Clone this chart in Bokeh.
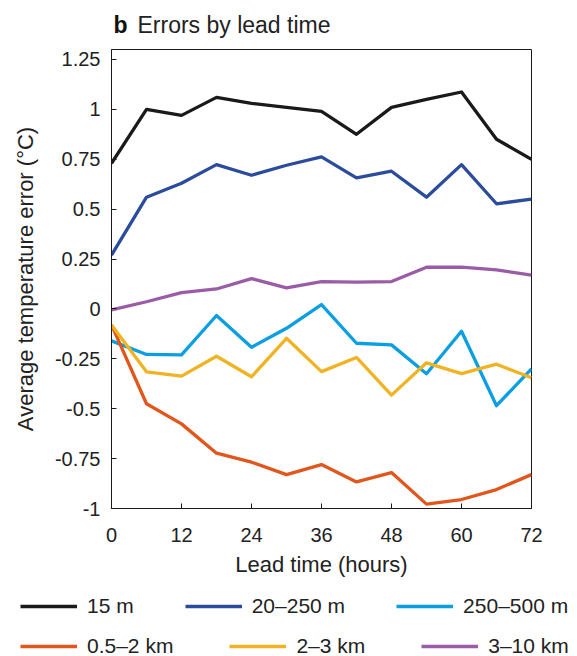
from bokeh.plotting import figure
from bokeh.models import Range1d, FixedTicker, Legend, LegendItem, Label
from bokeh.layouts import column
from bokeh.embed import file_html
from bokeh.resources import INLINE

lead_hours = [0, 6, 12, 18, 24, 30, 36, 42, 48, 54, 60, 66, 72]

err_15m = [0.73, 1.00, 0.97, 1.06, 1.03, 1.01, 0.99, 0.875, 1.01, 1.05, 1.087, 0.85, 0.75]
err_20_250m = [0.27, 0.56, 0.63, 0.723, 0.67, 0.72, 0.762, 0.657, 0.69, 0.56, 0.723, 0.527, 0.55]
err_250_500m = [-0.16, -0.228, -0.23, -0.033, -0.192, -0.097, 0.022, -0.172, -0.18, -0.325, -0.112, -0.485, -0.30]
err_05_2km = [-0.08, -0.475, -0.576, -0.723, -0.768, -0.83, -0.78, -0.867, -0.82, -0.978, -0.955, -0.905, -0.83]
err_2_3km = [-0.08, -0.315, -0.337, -0.237, -0.34, -0.147, -0.314, -0.243, -0.432, -0.27, -0.324, -0.277, -0.345]
err_3_10km = [-0.005, 0.036, 0.082, 0.10, 0.152, 0.106, 0.137, 0.134, 0.137, 0.209, 0.209, 0.196, 0.169]

series_names = ["15 m", "20\u2013250 m", "250\u2013500 m", "0.5\u20132 km", "2\u20133 km", "3\u201310 km"]
series_values = [err_15m, err_20_250m, err_250_500m, err_05_2km, err_2_3km, err_3_10km]
series_colors = ["#1a1a1a", "#2b4c9c", "#0a9fe0", "#e0561c", "#f0b323", "#9a5ca6"]

x_ticks = [0, 12, 24, 36, 48, 60, 72]
y_ticks = [-1, -0.75, -0.5, -0.25, 0, 0.25, 0.5, 0.75, 1, 1.25]
y_tick_labels = ["-1", "-0.75", "-0.5", "-0.25", "0", "0.25", "0.5", "0.75", "1", "1.25"]

FONT = "Liberation Sans"
TXT = "#222222"
W = 577
H_TITLE, H_MAIN, H_LEG = 45, 540, 71


def bare_figure(h, offset=0):
    f = figure(width=W, height=h, output_backend="svg", toolbar_location=None,
               x_range=Range1d(offset, offset + W), y_range=Range1d(offset, offset + h),
               x_axis_type=None, y_axis_type=None, min_border=0)
    f.outline_line_color = None
    f.background_fill_color = "white"
    f.border_fill_color = "white"
    f.frame_align = False
    return f


# ---- title strip ----
pt = bare_figure(H_TITLE)
pt.add_layout(Label(x=113, y=H_TITLE - 24, text="b", text_font=FONT,
                    text_font_size="23px", text_font_style="bold", text_color="#111111",
                    text_baseline="alphabetic"))
pt.add_layout(Label(x=137, y=H_TITLE - 24, text="Errors by lead time",
                    text_font=FONT, text_font_size="23px", text_color=TXT,
                    text_baseline="alphabetic"))

# ---- main chart ----
p = figure(width=W, height=H_MAIN, output_backend="svg", toolbar_location=None,
           x_range=Range1d(0, 72), y_range=Range1d(-1, 1.30))
p.frame_align = False
p.min_border_left = 111
p.min_border_right = 46
p.min_border_top = 4
p.min_border_bottom = H_MAIN - 4 - 459
p.background_fill_color = "white"
p.border_fill_color = "white"
p.outline_line_color = "#1a1a1a"
p.outline_line_width = 1
p.xgrid.visible = False
p.ygrid.visible = False

for vals, col in zip(series_values, series_colors):
    p.line(lead_hours, vals, line_color=col, line_width=3.3, line_join="round")

for ax in (p.xaxis[0], p.yaxis[0]):
    ax.major_tick_in = 5
    ax.major_tick_out = 0
    ax.minor_tick_in = 0
    ax.minor_tick_out = 0
    ax.axis_line_color = "#1a1a1a"
    ax.major_tick_line_color = "#1a1a1a"
    ax.major_label_text_font = FONT
    ax.major_label_text_font_size = "20px"
    ax.major_label_text_color = TXT
    ax.axis_label_text_font = FONT
    ax.axis_label_text_font_size = "22px"
    ax.axis_label_text_font_style = "normal"
    ax.axis_label_text_color = TXT

p.xaxis.ticker = FixedTicker(ticks=x_ticks)
p.yaxis.ticker = FixedTicker(ticks=y_ticks)
p.yaxis.major_label_overrides = {t: l for t, l in zip(y_ticks, y_tick_labels)}
p.xaxis.axis_label = "Lead time (hours)"
p.yaxis.axis_label = "Average temperature error (\u00b0C)"
p.xaxis.major_label_standoff = 19
p.yaxis.major_label_standoff = 11
p.xaxis.axis_label_standoff = 7
p.yaxis.axis_label_standoff = 14

# ---- legend strip (its lines lie outside its visible range; only legend glyphs show) ----
pl = bare_figure(H_LEG, offset=1000)
leg_renderers = [pl.line(lead_hours, vals, line_color=col, line_width=3.3)
                 for vals, col in zip(series_values, series_colors)]


def make_legend(idx, loc, spacing):
    return Legend(items=[LegendItem(label=series_names[i], renderers=[leg_renderers[i]]) for i in idx],
                  orientation="horizontal", location=loc, spacing=spacing,
                  glyph_width=57, glyph_height=24, label_height=24, label_standoff=10,
                  padding=0, margin=0, border_line_alpha=0, background_fill_alpha=0,
                  label_text_font=FONT, label_text_font_size="21px", label_text_color=TXT,
                  label_text_baseline="middle")


pl.add_layout(make_legend([0, 1, 2], (20, 38), 51))
pl.add_layout(make_legend([3, 4, 5], (20, -2), 56))

layout = column(pt, p, pl, spacing=0)
open("out.html", "w").write(file_html(layout, INLINE))
